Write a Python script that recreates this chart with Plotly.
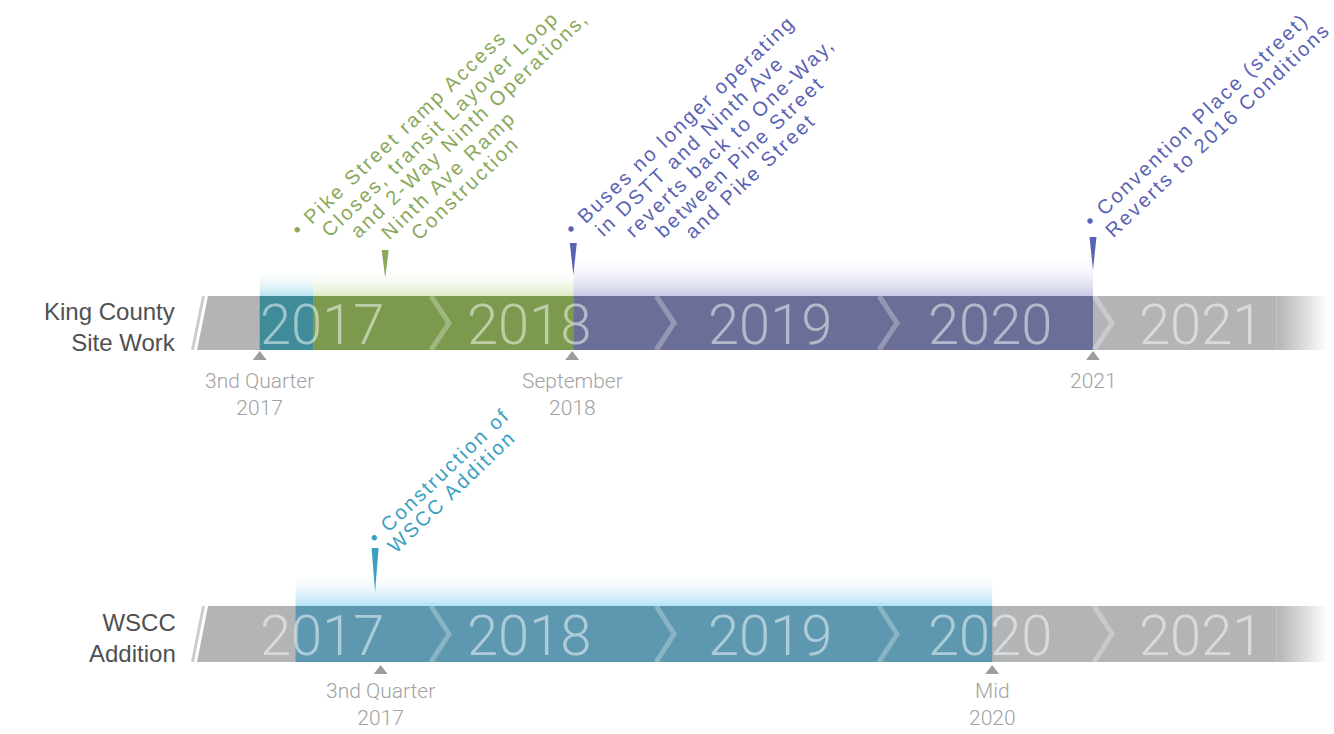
import math
import plotly.graph_objects as go

# ---------------- data ----------------
row_labels = ["King County<br>Site Work", "WSCC<br>Addition"]
year_labels = ["2017", "2018", "2019", "2020", "2021"]
year_label_x = [2017.56, 2018.48, 2019.56, 2020.54, 2021.48]
chevron_x = [2018.085, 2019.09, 2020.085, 2021.045]
timeline_start = 2017.0
timeline_end = 2022.05
fade_start = 2021.82

# King County Site Work phases
kc_phase_start = [2017.28, 2017.52, 2018.68]
kc_phase_end = [2017.52, 2018.68, 2021.0]
kc_milestone_x = [2017.28, 2018.675, 2021.0]
kc_milestone_text = ["3nd Quarter<br>2017", "September<br>2018", "2021"]
kc_event_x = [2017.84, 2018.68, 2021.0]
kc_event_lines = [
    ["• Pike Street ramp Access", "Closes, transit Layover Loop",
     "and 2-Way Ninth Operations,", "Ninth Ave Ramp", "Construction"],
    ["• Buses no longer operating", "in DSTT and Ninth Ave",
     "reverts back to One-Way,", "between Pine Street", "and Pike Street"],
    ["• Convention Place (street)", "Reverts to 2016 Conditions"],
]

# WSCC Addition phases
ws_phase_start = [2017.44]
ws_phase_end = [2020.55]
ws_milestone_x = [2017.82, 2020.55]
ws_milestone_text = ["3nd Quarter<br>2017", "Mid<br>2020"]
ws_event_x = [2017.795]
ws_event_lines = [["• Construction of", "WSCC Addition"]]

# ---------------- styles / layout ----------------
W, H = 1334, 734
PX = 1 / 224.0                       # one pixel in years
X0 = 2021.0 - 1093 * PX
X1 = X0 + W * PX

kc_phase_colors = ["#3f8b99", "#7b9a4d", "#6b6f97"]
kc_glow_colors = ["#b9e3ef", "#dcebc6", "#c8cae6"]
kc_glow_height = [28, 28, 42]
ws_phase_colors = ["#5d97b0"]
ws_glow_colors = ["#b3e2f4"]
ws_glow_height = [34]

kc_event_colors = ["#8aa85a", "#5a62b3", "#5a62b3"]
kc_wedge = [(250, 278), (243, 275), (237, 270)]
kc_text_start = [(-82, -7), (4, -1), (3, -3)]      # px offset of first line start
kc_text_step = [(30, 1), (30, 1), (21, 10)]        # px step between lines
ws_event_colors = ["#3aa0c2"]
ws_wedge = [(548, 592)]
ws_text_start = [(5, 3)]
ws_text_step = [(20, 9)]

ANGLE = 43.5
EV_FONT = 20
EV_SPACING = 2.3

GRAY = "#b3b4b6"
rows_geom = [  # band top, band bottom
    (296, 350),
    (606, 662),
]

fig = go.Figure()


def poly(xs, ys, color=None, grad=None):
    kw = dict(x=xs + [xs[0]], y=ys + [ys[0]], mode="lines", fill="toself",
              line=dict(width=0, color="rgba(0,0,0,0)"),
              hoverinfo="skip", showlegend=False)
    if grad is not None:
        kw["fillgradient"] = grad
    else:
        kw["fillcolor"] = color
    fig.add_trace(go.Scatter(**kw))


def draw_row(r, phase_start, phase_end, colors, glow_colors, glow_h):
    top, bot = rows_geom[r]
    slant = 11 * PX
    # thin slash at the left
    poly([timeline_start - 6 * PX + slant, timeline_start - 3 * PX + slant,
          timeline_start - 3 * PX, timeline_start - 6 * PX],
         [top, top, bot, bot], color="#cbcccd")
    # gray band
    poly([timeline_start + slant, fade_start, fade_start, timeline_start],
         [top, top, bot, bot], color=GRAY)
    # fading right end
    poly([fade_start, timeline_end, timeline_end, fade_start],
         [top, top, bot, bot],
         grad=dict(type="horizontal", start=fade_start, stop=timeline_end,
                   colorscale=[[0, GRAY], [1, "rgba(255,255,255,1)"]]))
    # phases + glows
    for s, e, c, gc, gh in zip(phase_start, phase_end, colors, glow_colors, glow_h):
        poly([s, e, e, s], [top, top, bot, bot], color=c)
        poly([s, e, e, s], [top - gh, top - gh, top, top],
             grad=dict(type="vertical", start=top - gh, stop=top,
                       colorscale=[[0, "rgba(255,255,255,0)"], [1, gc]]))
    # chevrons
    mid = (top + bot) / 2
    for cx in chevron_x:
        fig.add_trace(go.Scatter(
            x=[cx - 9 * PX, cx + 9 * PX, cx - 9 * PX], y=[top, mid, bot],
            mode="lines", line=dict(color="rgba(255,255,255,0.28)", width=5),
            hoverinfo="skip", showlegend=False))
    # year labels
    for yl, yx in zip(year_labels, year_label_x):
        fig.add_annotation(x=yx, y=mid + 2, text=yl, showarrow=False,
                           font=dict(family="Roboto", weight=300, size=56,
                                     color="rgba(255,255,255,0.5)"))
    # row label
    fig.add_annotation(x=X0 + 178 * PX, y=mid + 4, text=row_labels[r], showarrow=False,
                       xanchor="right", align="right",
                       font=dict(family="Liberation Sans", size=24, color="#505050"))


draw_row(0, kc_phase_start, kc_phase_end, kc_phase_colors, kc_glow_colors, kc_glow_height)
draw_row(1, ws_phase_start, ws_phase_end, ws_phase_colors, ws_glow_colors, ws_glow_height)


def milestones(xs, texts, tri_y, text_y):
    fig.add_trace(go.Scatter(x=xs, y=[tri_y] * len(xs), mode="markers",
                             marker=dict(symbol="triangle-up", size=12, color="#9c9c9c"),
                             hoverinfo="skip", showlegend=False))
    for x, t in zip(xs, texts):
        fig.add_annotation(x=x, y=text_y, text=t, showarrow=False, yanchor="top",
                           font=dict(family="Roboto", weight=300, size=21, color="#a2a2a2"))


milestones(kc_milestone_x, kc_milestone_text, 357, 367)
milestones(ws_milestone_x, ws_milestone_text, 671, 677)

s_a = math.sin(math.radians(ANGLE))
comp = (EV_FONT * 1.3 + 2) * s_a     # rotated box: left edge sits this far left of line start


def events(xs, lines_list, colors, wedges, starts, steps):
    for x, lines, c, (wt, wb), (ox, oy), (dx, dy) in zip(xs, lines_list, colors, wedges, starts, steps):
        poly([x - 3.5 * PX, x + 3.5 * PX, x], [wt, wt, wb], color=c)
        for k, ln in enumerate(lines):
            fig.add_annotation(x=x, y=wt + oy + k * dy, showarrow=False,
                               text='<span style="letter-spacing:%.1fpx">%s</span>' % (EV_SPACING, ln),
                               textangle=-ANGLE, xanchor="left", yanchor="bottom",
                               xshift=ox + k * dx - comp,
                               font=dict(family="Liberation Sans", size=EV_FONT, color=c))


events(kc_event_x, kc_event_lines, kc_event_colors, kc_wedge, kc_text_start, kc_text_step)
events(ws_event_x, ws_event_lines, ws_event_colors, ws_wedge, ws_text_start, ws_text_step)

fig.update_layout(
    width=W, height=H, margin=dict(l=0, r=0, t=0, b=0),
    paper_bgcolor="white", plot_bgcolor="white",
    xaxis=dict(range=[X0, X1], visible=False, fixedrange=True),
    yaxis=dict(range=[H, 0], visible=False, fixedrange=True),
    showlegend=False,
)

fig.write_html("out.html", config={"displayModeBar": False},
               post_script="document.body.style.margin='0';")
